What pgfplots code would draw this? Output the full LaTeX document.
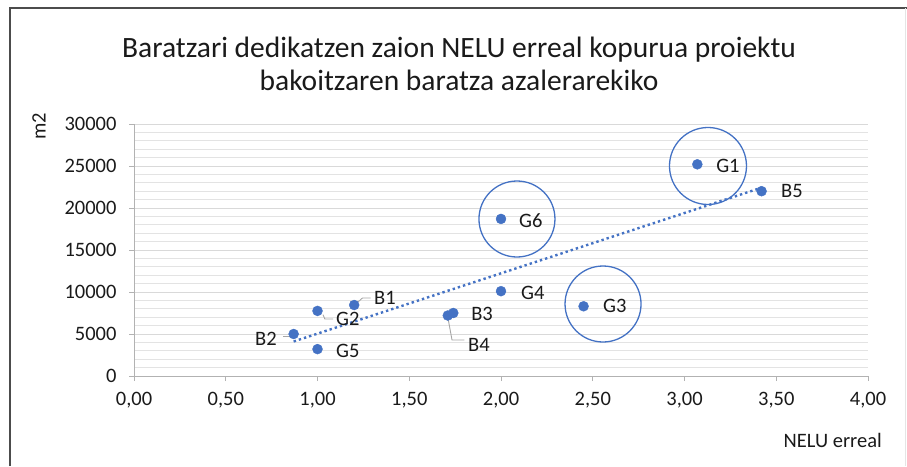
\documentclass[border=0pt]{standalone}
\usepackage{pgfplots}
\pgfplotsset{compat=1.18}
\usepackage{fontspec}
\setmainfont{Carlito}
\definecolor{xblue}{HTML}{4472C4}
\definecolor{gridmaj}{HTML}{D9D9D9}
\definecolor{gridmin}{HTML}{E3E3E3}
\definecolor{txt}{HTML}{1A1A1A}
\definecolor{lead}{HTML}{A6A6A6}
\begin{document}
\begin{tikzpicture}[x=1pt,y=1pt]
\useasboundingbox (0pt,0pt) rectangle (907pt,466pt);
\draw[line width=1.6pt, color=black!70] (10pt,0pt) -- (10pt,458pt) -- (907pt,458pt);
\draw[line width=0.8pt, color=black!10] (905pt,0pt) -- (905pt,458pt);
\node[font=\fontsize{29.5}{33}\selectfont, align=center, text=txt] at (459pt,402.5pt)
  {Baratzari dedikatzen zaion NELU erreal kopurua proiektu\\bakoitzaren baratza azalerarekiko};
\node[font=\fontsize{20.5}{22}\selectfont, text=txt, rotate=90] at (39pt,340pt) {m2};
\node[font=\fontsize{20.5}{22}\selectfont, text=txt, anchor=east, inner sep=0pt] at (882pt,26pt) {NELU erreal};
\begin{axis}[
  at={(134pt,90pt)}, anchor=origin,
  scale only axis, width=734pt, height=252pt,
  xmin=0, xmax=4, ymin=0, ymax=30000,
  xtick={0,0.5,...,4}, ytick={0,5000,...,30000},
  scaled ticks=false,
  minor y tick num=4,
  ymajorgrids, yminorgrids,
  major grid style={gridmaj, line width=0.9pt},
  minor grid style={gridmin, line width=0.9pt},
  axis lines*=left,
  axis line style={color=black!30, line width=0.9pt},
  tick style={color=black!30, line width=0.9pt},
  major tick length=5pt, minor tick length=0pt,
  tick align=outside,
  ticklabel style={font=\fontsize{20.5}{22}\selectfont, text=txt},
  /pgf/number format/assume math mode=true,
  xticklabel style={/pgf/number format/.cd, fixed, fixed zerofill, precision=2, use comma, /tikz/.cd, yshift=-8pt},
  yticklabel style={/pgf/number format/.cd, fixed, 1000 sep={}, /tikz/.cd, xshift=-9pt},
  clip=false,
]
% trendline (linear fit endpoints)
\addplot[xblue, line width=2.4pt, dash pattern=on 2.4pt off 3pt, line cap=butt] coordinates {(0.87,4110) (3.42,22420)};
% data points
\addplot[only marks, mark=*, mark size=5pt, color=xblue, mark options={fill=xblue, draw=xblue}] coordinates {
 (3.07,25200) (3.42,22000) (2.00,18700) (2.00,10100) (2.45,8300)
 (1.74,7500) (1.71,7200) (1.20,8450) (1.00,7750) (0.87,5000) (1.00,3200)
};
% highlight circles
\draw[xblue, line width=1.3pt] (axis cs:3.128,25000) circle[radius=38.5pt];
\draw[xblue, line width=1.3pt] (axis cs:2.087,18690) circle[radius=38pt];
\draw[xblue, line width=1.3pt] (axis cs:2.556,8571) circle[radius=38pt];
% leader lines
\draw[lead, line width=0.9pt] (axis cs:1.22,8800) -- (axis cs:1.245,9286) -- (axis cs:1.29,9286);
\draw[lead, line width=0.9pt] (axis cs:1.03,7300) -- (axis cs:1.04,6786) -- (axis cs:1.085,6786);
\draw[lead, line width=0.9pt] (axis cs:0.812,4650) -- (axis cs:0.86,4650);
\draw[lead, line width=0.9pt] (axis cs:1.711,6900) -- (axis cs:1.733,4286) -- (axis cs:1.80,4286);
% data labels
\tikzset{dl/.style={font=\fontsize{20.5}{22}\selectfont, text=txt, anchor=west, inner sep=0pt}}
\node[dl] at (axis cs:3.172,25000) {G1};
\node[dl] at (axis cs:3.526,22024) {B5};
\node[dl] at (axis cs:2.098,18452) {G6};
\node[dl] at (axis cs:2.109,9881) {G4};
\node[dl] at (axis cs:2.556,8333) {G3};
\node[dl] at (axis cs:1.837,7381) {B3};
\node[dl] at (axis cs:1.820,3690) {B4};
\node[dl] at (axis cs:1.308,9286) {B1};
\node[dl] at (axis cs:1.101,6786) {G2};
\node[dl] at (axis cs:1.101,2976) {G5};
\node[dl, anchor=east] at (axis cs:0.779,4405) {B2};
\end{axis}
\end{tikzpicture}
\end{document}
